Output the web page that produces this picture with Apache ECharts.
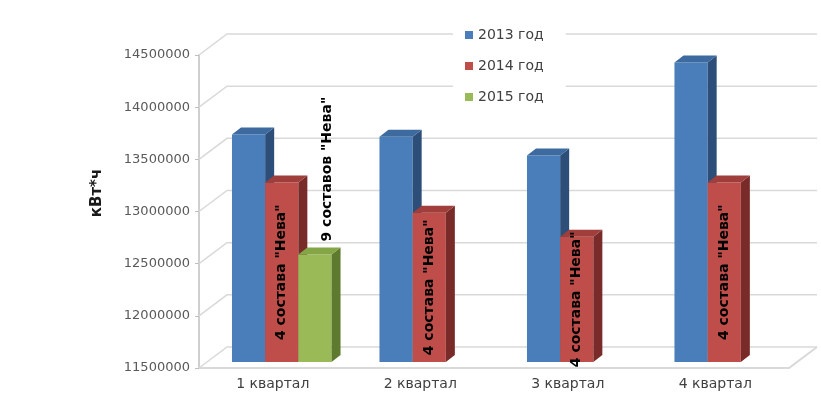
<!DOCTYPE html>
<html>
<head>
<meta charset="utf-8">
<script src="https://cdn.jsdelivr.net/npm/echarts@6/dist/echarts.min.js"></script>
<style>
  html, body { margin: 0; padding: 0; background: #ffffff; }
  #chart { width: 821px; height: 401px; }
</style>
</head>
<body>
<div id="chart"></div>
<script>
// Energy consumption per quarter, kWh
const quarters = ['1 квартал', '2 квартал', '3 квартал', '4 квартал'];
const years = ['2013 год', '2014 год', '2015 год'];
const values2013 = [13680000, 13660000, 13480000, 14370000];
const values2014 = [13220000, 12930000, 12700000, 13220000];
const values2015 = [12530000, null, null, null];
const notes2014 = ['4 состава "Нева"', '4 состава "Нева"', '4 состава "Нева"', '4 состава "Нева"'];
const notes2015 = ['9 составов "Нева"', null, null, null];
const yTicks = [11500000, 12000000, 12500000, 13000000, 13500000, 14000000, 14500000];

// oblique projection offsets for the pseudo-3D look
const WALL = [28, -21];   // front edge of floor -> back wall
const FRONT = [9, -6];    // front edge of floor -> front faces of columns
const DEPTH = [9, -7];    // column thickness

const palette = [
  { front: '#4A7EBB', side: '#2C4E78', top: '#3D6A9F' },
  { front: '#BF4E4B', side: '#782B29', top: '#A03E3B' },
  { front: '#9ABA57', side: '#5D7A2F', top: '#84A646' }
];

const GRID_COLOR = '#d9d9d9';

function renderWalls(params, api) {
  const cs = params.coordSys;
  const y = api.coord([0, api.value(1)])[1];
  const left = cs.x, right = cs.x + cs.width;
  const line = { stroke: GRID_COLOR, lineWidth: 1.5, fill: null };
  const children = [{
    type: 'polyline',
    shape: { points: [[left, y], [left + WALL[0], y + WALL[1]], [right + WALL[0], y + WALL[1]]] },
    style: line
  }];
  if (params.dataIndex === 0) {
    // floor outline
    children.push({
      type: 'polyline',
      shape: { points: [[left, y], [right, y], [right + WALL[0], y + WALL[1]]] },
      style: { stroke: GRID_COLOR, lineWidth: 2, fill: null }
    });
  }
  return { type: 'group', children };
}

function boxRenderer(slot, notes, notePlace) {
  const col = palette[slot];
  return function (params, api) {
    const val = api.value(1);
    if (val == null || isNaN(val)) return null;
    const cat = api.value(0);
    const band = api.size([1, 0])[0];
    const w = band * 0.225;
    const c = api.coord([cat, val]);
    const b = api.coord([cat, yTicks[0]]);
    const x0 = c[0] - 1.5 * w + slot * w + FRONT[0];
    const x1 = x0 + w;
    const yt = c[1] + FRONT[1];
    const yb = b[1] + FRONT[1];
    const dx = DEPTH[0], dy = DEPTH[1];
    const children = [
      { type: 'rect', shape: { x: x0, y: yt, width: w, height: yb - yt }, style: { fill: col.front } },
      { type: 'polygon', shape: { points: [[x1, yt], [x1 + dx, yt + dy], [x1 + dx, yb + dy], [x1, yb]] }, style: { fill: col.side } },
      { type: 'polygon', shape: { points: [[x0, yt], [x0 + dx, yt + dy], [x1 + dx, yt + dy], [x1, yt]] }, style: { fill: col.top } }
    ];
    const note = notes ? notes[params.dataIndex] : null;
    if (note) {
      const font = 'bold 14px "DejaVu Sans"';
      if (notePlace === 'inside') {
        children.push({
          type: 'text', x: (x0 + x1) / 2, y: (yt + yb) / 2, rotation: Math.PI / 2, z2: 10,
          style: { text: note, font, fill: '#000000', align: 'center', verticalAlign: 'middle' }
        });
      } else {
        children.push({
          type: 'text', x: (x0 + x1) / 2 + 12, y: yt + dy - 6, rotation: Math.PI / 2, z2: 10,
          style: { text: note, font, fill: '#000000', align: 'left', verticalAlign: 'middle' }
        });
      }
    }
    return { type: 'group', children };
  };
}

const toData = arr => arr.map((v, i) => [i, v]);

const chart = echarts.init(document.getElementById('chart'), null, { renderer: 'canvas' });
chart.setOption({
  animation: false,
  backgroundColor: '#ffffff',
  grid: { left: 199, right: 32, top: 55, bottom: 33 },
  legend: {
    data: years,
    orient: 'vertical',
    left: 453,
    top: 20,
    padding: [8, 22, 8, 12],
    itemGap: 17,
    itemWidth: 8,
    itemHeight: 8,
    icon: 'rect',
    backgroundColor: '#ffffff',
    textStyle: { fontFamily: 'DejaVu Sans', fontSize: 14, color: '#404040' }
  },
  xAxis: {
    type: 'category',
    data: quarters,
    axisLine: { show: false },
    axisTick: { show: false },
    splitLine: { show: false },
    axisLabel: { fontFamily: 'DejaVu Sans', fontSize: 14, color: '#404040', margin: 9 }
  },
  yAxis: {
    type: 'value',
    min: yTicks[0],
    max: yTicks[yTicks.length - 1],
    interval: 500000,
    axisLine: { show: true, lineStyle: { color: '#bfbfbf', width: 1.5 } },
    axisTick: { show: true, length: 4, lineStyle: { color: '#bfbfbf' } },
    splitLine: { show: false },
    axisLabel: {
      fontFamily: 'DejaVu Sans', fontSize: 13, color: '#595959', margin: 9,
      formatter: v => String(v)
    }
  },
  graphic: [{
    type: 'text', x: 97, y: 193, rotation: Math.PI / 2,
    style: { text: 'кВт*ч', font: 'bold 15px "DejaVu Sans"', fill: '#1a1a1a', align: 'center', verticalAlign: 'middle' }
  }],
  series: [
    {
      name: 'walls', type: 'custom', silent: true, z: 1,
      renderItem: renderWalls,
      data: yTicks.map(v => [0, v]),
      encode: { x: 0, y: 1 }
    },
    {
      name: years[0], type: 'custom', z: 2,
      itemStyle: { color: palette[0].front },
      renderItem: boxRenderer(0, null, null),
      data: toData(values2013), encode: { x: 0, y: 1 }
    },
    {
      name: years[1], type: 'custom', z: 3,
      itemStyle: { color: palette[1].front },
      renderItem: boxRenderer(1, notes2014, 'inside'),
      data: toData(values2014), encode: { x: 0, y: 1 }
    },
    {
      name: years[2], type: 'custom', z: 4,
      itemStyle: { color: palette[2].front },
      renderItem: boxRenderer(2, notes2015, 'above'),
      data: toData(values2015), encode: { x: 0, y: 1 }
    }
  ]
});
</script>
</body>
</html>
